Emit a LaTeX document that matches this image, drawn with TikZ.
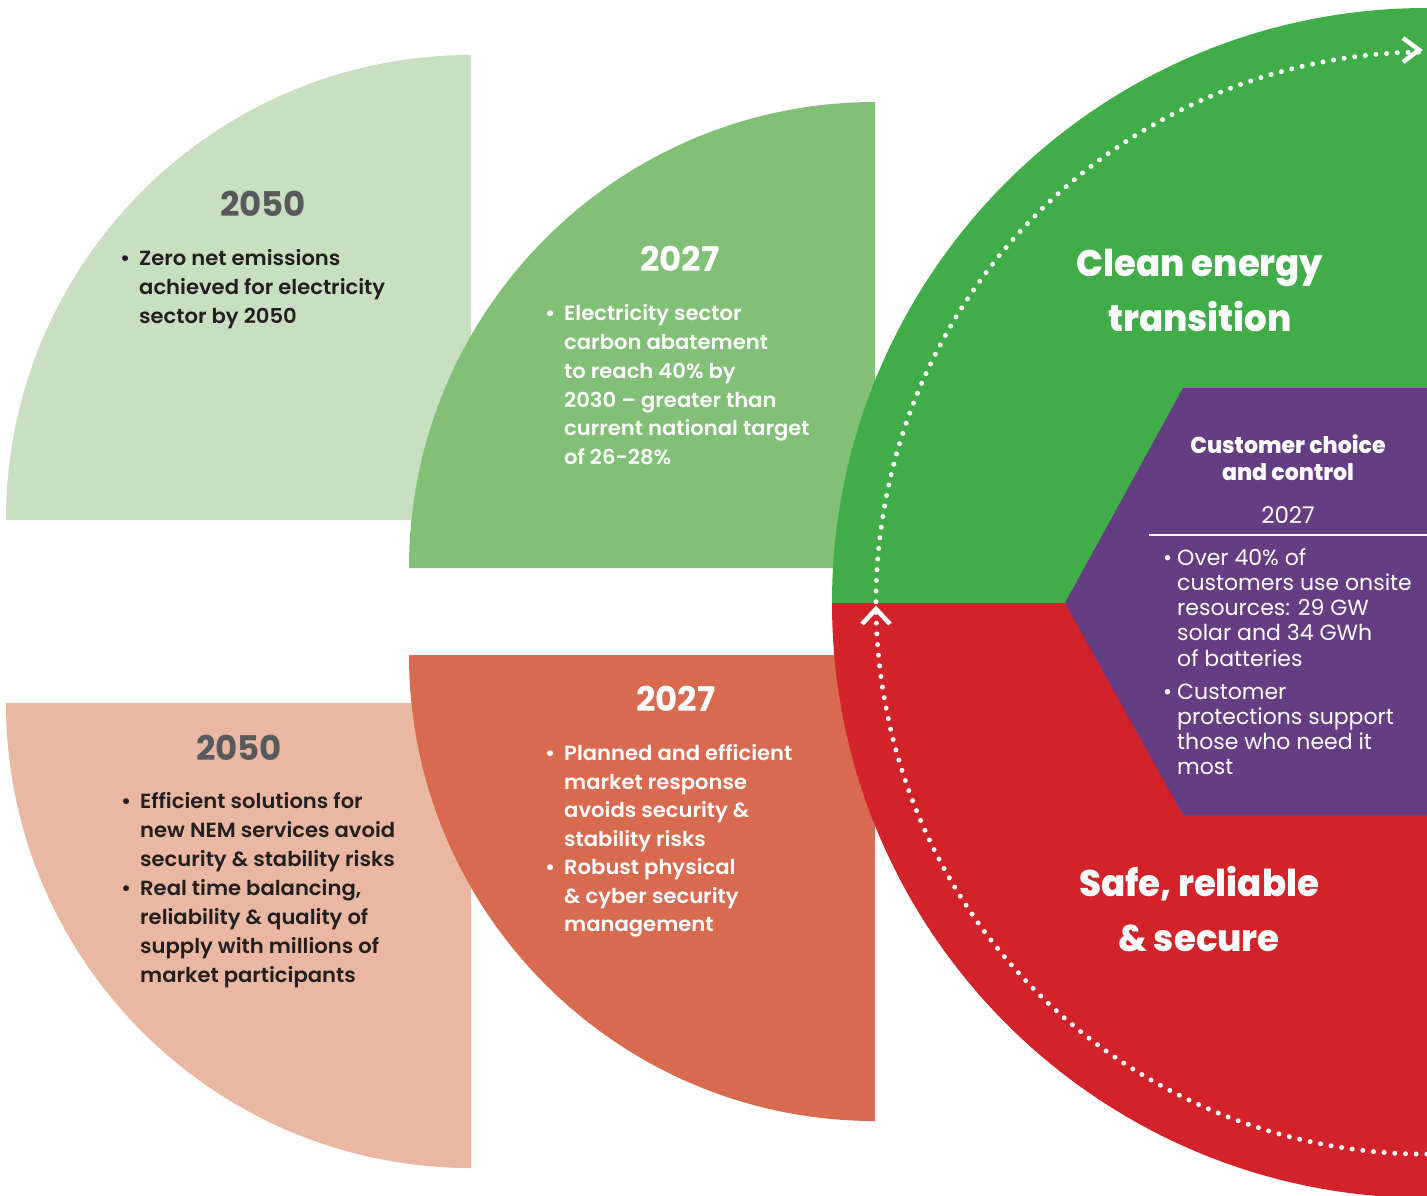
\documentclass[tikz,border=0pt]{standalone}
\usepackage{fontspec}
\setmainfont{Poppins}
\newfontfamily\medfont{Poppins SemiBold}[FakeStretch=1.03]
\newfontfamily\heavyfont{Poppins ExtraBold}[FakeStretch=0.96]
\definecolor{lgreen}{RGB}{200,223,193}
\definecolor{mgreen}{RGB}{130,191,119}
\definecolor{bgreen}{RGB}{64,173,73}
\definecolor{bred}{RGB}{210,34,42}
\definecolor{bpurple}{RGB}{100,61,130}
\definecolor{lsalmon}{RGB}{234,183,162}
\definecolor{msalmon}{RGB}{216,106,80}
\definecolor{dgray}{RGB}{88,89,91}
\definecolor{ink}{RGB}{35,31,32}
\newcommand{\bul}{\llap{\textbullet\hspace{9pt}}}
\newcommand{\pbul}{\llap{\textbullet\hspace{5pt}}}
\begin{document}
\begin{tikzpicture}[x=1pt,y=-1pt,
  year/.style={anchor=base, inner sep=0, font=\bfseries\fontsize{34}{34}\selectfont},
  bodytext/.style={anchor=north west, inner sep=0, align=left},
  headtext/.style={anchor=north, inner sep=0, align=center, text=white},
  dots/.style={white, line width=5pt, line cap=round, dash pattern=on 0pt off 10.7pt},
  chev/.style={white, line width=4.5pt}
]
\useasboundingbox (0,0) rectangle (1427,1195);
\clip (0,0) rectangle (1427,1195);
% quarter discs
\fill[lgreen] (471,520) -- (6,520) arc[start angle=180,end angle=270,radius=465] -- cycle;
\fill[lsalmon] (471,703) -- (6,703) arc[start angle=180,end angle=90,radius=465] -- cycle;
\fill[mgreen] (875,568) -- (409,568) arc[start angle=180,end angle=270,radius=466] -- cycle;
\fill[msalmon] (875,655) -- (409,655) arc[start angle=180,end angle=90,radius=466] -- cycle;
% big disc
\fill[bgreen] (1427,603) -- (832,603) arc[start angle=180,end angle=360,radius=595] -- cycle;
\fill[bred] (1427,603) -- (832,603) arc[start angle=180,end angle=0,radius=595] -- cycle;
% hexagon
\fill[bpurple] (1065,603) -- (1183,388) -- (1440,388) -- (1440,815) -- (1183,815) -- cycle;
\draw[white, line width=2pt] (1149,535) -- (1440,535);
% dotted circle and chevrons
\draw[dots] (1427,603) ++(80:551) arc[start angle=80,end angle=280,radius=551];
\draw[chev] (1403,38) -- (1419,50) -- (1403,62);
\draw[chev] (862,624) -- (876,609) -- (890,624);
% texts: top-left 2050
\node[year, text=dgray] (ya) at (263,216) {2050};
\node[bodytext, text=ink, font=\medfont\fontsize{20.5}{29}\selectfont] (ta) at (139,244.7)
  {\strut\bul Zero net emissions\\achieved for electricity\\sector by 2050};
% 2027 green
\node[year, text=white] (yb) at (680,271) {2027};
\node[bodytext, text=white, font=\medfont\fontsize{20.5}{28.7}\selectfont] (tb) at (564,300.6)
  {\strut\bul Electricity sector\\carbon abatement\\to reach 40\% by\\2030 – greater than\\current national target\\of 26-28\%};
% clean energy
\node[headtext, font=\heavyfont\fontsize{37}{55}\selectfont] (hc) at (1200,237.5)
  {\strut Clean energy\\transition};
% customer choice
\node[headtext, font=\heavyfont\fontsize{23}{27}\selectfont] (hp) at (1288,434.1)
  {\strut Customer choice\\and control};
\node[anchor=base, inner sep=0, text=white, font=\fontsize{23}{23}\selectfont] (yp) at (1288,523.3) {2027};
\node[bodytext, text=white, font=\fontsize{22}{25.2}\selectfont] (tp) at (1177,547.4)
  {\strut\pbul Over 40\% of\\customers use onsite\\resources: 29 GW\\solar and 34 GWh\\of batteries\\[8pt]\pbul Customer\\protections support\\those who need it\\most};
% bottom-left 2050
\node[year, text=dgray] (yc) at (239,760) {2050};
\node[bodytext, text=ink, font=\medfont\fontsize{20.5}{29}\selectfont] (tc) at (140,788)
  {\strut\bul Efficient solutions for\\new NEM services avoid\\security \& stability risks\\\bul Real time balancing,\\reliability \& quality of\\supply with millions of\\market participants};
% 2027 salmon
\node[year, text=white] (yd) at (676,711.7) {2027};
\node[bodytext, text=white, font=\medfont\fontsize{20.5}{28.5}\selectfont] (td) at (564,740.7)
  {\strut\bul Planned and efficient\\market response\\avoids security \&\\stability risks\\\bul Robust physical\\\& cyber security\\management};
% safe reliable
\node[headtext, font=\heavyfont\fontsize{37}{55}\selectfont] (hs) at (1199,858.2)
  {\strut Safe, reliable\\\& secure};
\end{tikzpicture}
\end{document}
